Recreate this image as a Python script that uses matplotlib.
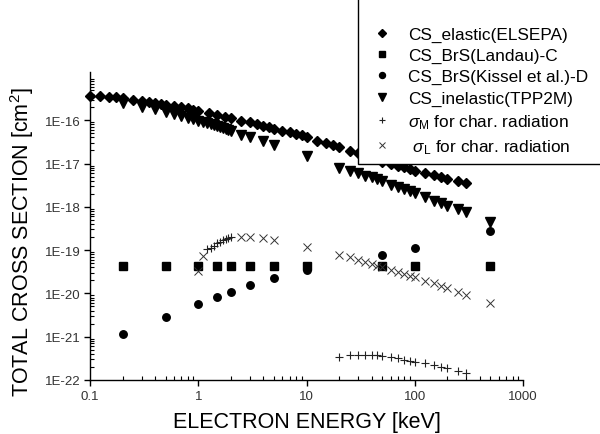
import numpy as np
import matplotlib
matplotlib.use("Agg")
import matplotlib.pyplot as plt
from matplotlib.ticker import FixedLocator, FuncFormatter, LogLocator, NullFormatter
from matplotlib.patches import Rectangle

plt.rcParams['font.family'] = ['Liberation Sans', 'DejaVu Sans']
plt.rcParams['mathtext.fontset'] = 'custom'
plt.rcParams['mathtext.rm'] = 'Liberation Sans'
plt.rcParams['mathtext.it'] = 'Liberation Sans:italic'

# ---------------- data ----------------
E_elastic = [0.1, 0.125, 0.15, 0.175, 0.2, 0.25, 0.3, 0.35, 0.4, 0.45, 0.5, 0.6, 0.7, 0.8, 0.9,
             1.0, 1.25, 1.5, 1.75, 2.0, 2.5, 3.0, 3.5, 4.0, 4.5, 5.0, 6.0, 7.0, 8.0, 9.0,
             10, 12.5, 15, 17.5, 20, 25, 30, 35, 40, 45, 50, 60, 70, 80, 90,
             100, 125, 150, 175, 200, 250, 300]
CS_elastic = [3.68e-16, 3.6e-16, 3.38e-16, 3.35e-16, 3.21e-16, 2.93e-16, 2.73e-16, 2.59e-16, 2.49e-16,
              2.37e-16, 2.28e-16, 2.16e-16, 1.99e-16, 1.88e-16, 1.75e-16,
              1.61e-16, 1.44e-16, 1.32e-16, 1.20e-16, 1.12e-16, 9.73e-17, 8.95e-17, 8.17e-17, 7.46e-17,
              6.86e-17, 6.27e-17, 5.72e-17, 5.26e-17, 4.80e-17, 4.48e-17,
              4.09e-17, 3.36e-17, 2.97e-17, 2.67e-17, 2.37e-17, 1.98e-17, 1.75e-17, 1.53e-17, 1.38e-17,
              1.24e-17, 1.11e-17, 9.73e-18, 8.75e-18, 8.17e-18, 7.46e-18,
              6.82e-18, 5.94e-18, 5.42e-18, 4.80e-18, 4.39e-18, 3.88e-18, 3.55e-18]

E_brs = [0.2, 0.5, 1.0, 1.5, 2.0, 3.0, 5.0, 10, 50, 100, 500]
CS_landau = [4.4e-20, 4.4e-20, 4.4e-20, 4.4e-20, 4.4e-20, 4.4e-20, 4.4e-20, 4.4e-20, 4.4e-20, 4.4e-20, 4.4e-20]
CS_kissel = [1.15e-21, 2.90e-21, 5.69e-21, 8.39e-21, 1.09e-20, 1.56e-20, 2.23e-20, 3.53e-20,
             7.71e-20, 1.10e-19, 2.81e-19]

E_inel = [0.2, 0.3, 0.4, 0.5, 0.6, 0.7, 0.8, 0.9, 1.0, 1.1, 1.2, 1.3, 1.4, 1.5, 1.6, 1.7, 1.8, 1.9, 2.0,
          2.5, 3.0, 4.0, 5.0, 10, 20, 25, 30, 35, 40, 45, 50, 60, 70, 80, 90,
          100, 125, 150, 175, 200, 250, 300, 500]
CS_inel = [2.49e-16, 2.07e-16, 1.77e-16, 1.59e-16, 1.43e-16, 1.27e-16, 1.15e-16, 1.07e-16, 9.85e-17,
           9.08e-17, 8.61e-17, 8.17e-17, 7.67e-17, 7.27e-17, 6.89e-17, 6.53e-17, 6.27e-17, 5.94e-17, 5.72e-17,
           4.63e-17, 4.03e-17, 3.36e-17, 2.72e-17, 1.49e-17, 7.87e-18, 6.82e-18, 6.04e-18, 5.23e-18,
           4.80e-18, 4.39e-18, 4.01e-18, 3.19e-18, 2.82e-18, 2.58e-18, 2.35e-18,
           2.08e-18, 1.66e-18, 1.38e-18, 1.22e-18, 1.06e-18, 8.89e-19, 7.46e-19, 4.58e-19]

E_sigM = [1.2, 1.3, 1.4, 1.5, 1.6, 1.7, 1.8, 1.9, 2.0,
          20, 25, 30, 35, 40, 45, 50, 60, 70, 80, 90, 100, 125, 150, 175, 200, 250, 300]
CS_sigM = [1.06e-19, 1.12e-19, 1.26e-19, 1.44e-19, 1.56e-19, 1.71e-19, 1.80e-19, 1.90e-19, 1.98e-19,
           3.45e-22, 3.78e-22, 3.78e-22, 3.78e-22, 3.78e-22, 3.76e-22, 3.64e-22, 3.34e-22, 3.17e-22,
           2.94e-22, 2.79e-22, 2.65e-22, 2.43e-22, 2.22e-22, 2.03e-22, 1.86e-22, 1.59e-22, 1.45e-22]

E_sigL = [1.0, 1.1, 2.5, 3.0, 4.0, 5.0, 10, 20, 25, 30, 35, 40, 45, 50, 60, 70, 80, 90,
          100, 125, 150, 175, 200, 250, 300, 500]
CS_sigL = [3.34e-20, 7.19e-20, 1.98e-19, 1.98e-19, 1.87e-19, 1.74e-19, 1.20e-19, 7.83e-20, 6.82e-20,
           6.00e-20, 5.23e-20, 4.78e-20, 4.36e-20, 4.14e-20, 3.53e-20, 3.07e-20, 2.81e-20, 2.56e-20,
           2.35e-20, 1.96e-20, 1.74e-20, 1.46e-20, 1.31e-20, 1.09e-20, 9.18e-21, 6.0e-21]

labels = ['CS_elastic(ELSEPA)', 'CS_BrS(Landau)-C', 'CS_BrS(Kissel et al.)-D',
          'CS_inelastic(TPP2M)', r'$\mathit{\sigma}_{\mathrm{M}}$ for char. radiation',
          r' $\mathit{\sigma}_{\mathrm{L}}$ for char. radiation']
x_ticks = [0.1, 1, 10, 100, 1000]
x_ticklabels = ['0.1', '1', '10', '100', '1000']
y_ticks = [1e-22, 1e-21, 1e-20, 1e-19, 1e-18, 1e-17, 1e-16]
y_ticklabels = ['1E-22', '1E-21', '1E-20', '1E-19', '1E-18', '1E-17', '1E-16']

# ---------------- figure ----------------
W, H = 600, 435
fig = plt.figure(figsize=(W / 100, H / 100), dpi=100)
ax = fig.add_axes([90 / W, (H - 381) / H, (523 - 90) / W, (381 - 73) / H])

h1, = ax.plot(E_elastic, CS_elastic, linestyle='none', marker='D', ms=4.8, color='black', clip_on=False)
h2, = ax.plot(E_brs, CS_landau, linestyle='none', marker='s', ms=5.2, color='black')
h3, = ax.plot(E_brs, CS_kissel, linestyle='none', marker='o', ms=5.4, color='black')
h4, = ax.plot(E_inel, CS_inel, linestyle='none', marker='v', ms=6.6, color='black')
h5, = ax.plot(E_sigM, CS_sigM, linestyle='none', marker='+', ms=6, mew=0.8, color='#222222')
h6, = ax.plot(E_sigL, CS_sigL, linestyle='none', marker='x', ms=5.5, mew=0.7, color='#333333')

ax.set_xscale('log')
ax.set_yscale('log')
ax.set_xlim(0.1, 1000)
ax.set_ylim(1e-22, 1.3e-15)

for s in ['top', 'right']:
    ax.spines[s].set_visible(False)
for s in ['left', 'bottom']:
    ax.spines[s].set_linewidth(1.0)

ax.xaxis.set_major_locator(FixedLocator(x_ticks))
ax.xaxis.set_major_formatter(FuncFormatter(lambda v, p: x_ticklabels[x_ticks.index(min(x_ticks, key=lambda t: abs(np.log10(t) - np.log10(v))))]))
ax.yaxis.set_major_locator(FixedLocator(y_ticks))
ax.yaxis.set_major_formatter(FuncFormatter(lambda v, p: y_ticklabels[int(round(np.log10(v))) + 22] if -22 <= round(np.log10(v)) <= -16 else ''))
ax.xaxis.set_minor_locator(LogLocator(base=10, subs=np.arange(2, 10), numticks=20))
ax.yaxis.set_minor_locator(LogLocator(base=10, subs=np.arange(2, 10), numticks=30))
ax.xaxis.set_minor_formatter(NullFormatter())
ax.yaxis.set_minor_formatter(NullFormatter())

ax.tick_params(which='major', direction='out', length=4, width=1, labelsize=9.5, labelcolor='#333333', pad=3)
ax.tick_params(which='minor', direction='in', length=3, width=0.8)
ax.tick_params(top=False, right=False)

ax.set_xlabel('ELECTRON ENERGY [keV]', fontsize=15.5)
ax.set_ylabel('TOTAL CROSS SECTION [cm$^2$]', fontsize=15.5)
ax.xaxis.set_label_coords(0.5, (381 - 412) / 308)
ax.yaxis.set_label_coords((36 - 90) / 433, (381 - 242) / 308)

# legend box (opaque, extends beyond figure top/right)
rect = Rectangle((358 / W, (H - 165) / H), 1, 1, transform=fig.transFigure,
                 facecolor='white', edgecolor='black', lw=1, zorder=4)
fig.add_artist(rect)
leg = fig.legend([h1, h2, h3, h4, h5, h6], labels, loc='upper left',
                 bbox_to_anchor=(373.7 / W, (H - 27.5) / H), bbox_transform=fig.transFigure,
                 frameon=False, fontsize=12.4, handlelength=1.0, handletextpad=1.02,
                 labelspacing=0.36, borderpad=0, borderaxespad=0, markerscale=0.8)
leg.set_zorder(5)

fig.savefig('out.png', dpi=100)
